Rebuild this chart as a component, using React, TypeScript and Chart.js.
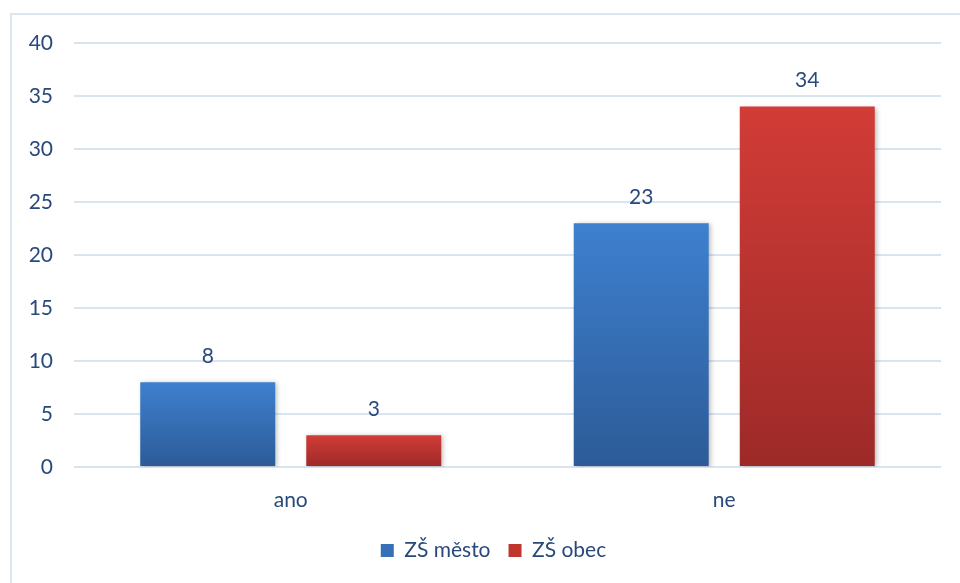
import React, { useEffect, useRef } from "react";
import { Chart, registerables } from "chart.js";

Chart.register(...registerables);

const categories = ["ano", "ne"];
const seriesNames = ["ZŠ město", "ZŠ obec"];
const mestoValues = [8, 23];
const obecValues = [3, 34];
const yTicks = [0, 5, 10, 15, 20, 25, 30, 35, 40];

const TEXT_COLOR = "#28497c";
const FONT_FAMILY = "Lato, 'Noto Sans', sans-serif";
const FONT_SIZE = 21;
const LEGEND_SHIFT = 18;

const palettes = [
  { top: "#3e80cf", bottom: "#2c5b97", solid: "#3670b8" },
  { top: "#d23c37", bottom: "#9d2a28", solid: "#c0362f" },
];

// Each bar gets its own vertical gradient, lighter on top.
function barGradient(index: number) {
  return (c: any) => {
    const chart = c.chart;
    const pal = palettes[index];
    const y = chart.scales?.y;
    if (!chart.chartArea || !y || typeof c.raw !== "number") return pal.solid;
    const top = y.getPixelForValue(c.raw);
    const base = y.getPixelForValue(0);
    if (!isFinite(top) || !isFinite(base) || top === base) return pal.solid;
    const g = chart.ctx.createLinearGradient(0, top, 0, base);
    g.addColorStop(0, pal.top);
    g.addColorStop(1, pal.bottom);
    return g;
  };
}

const shadowPlugin = {
  id: "barShadow",
  beforeDatasetsDraw(chart: any) {
    const ctx = chart.ctx;
    ctx.save();
    ctx.shadowColor = "rgba(0,0,0,0.28)";
    ctx.shadowBlur = 5;
    ctx.shadowOffsetX = 2;
    ctx.shadowOffsetY = 1;
  },
  afterDatasetsDraw(chart: any) {
    chart.ctx.restore();
  },
};

// Nudge the legend to the right of the plot's centre line.
const legendShiftPlugin = {
  id: "legendShift",
  afterLayout(chart: any) {
    const lg = chart.legend;
    if (!lg) return;
    lg.left += LEGEND_SHIFT;
    lg.right += LEGEND_SHIFT;
  },
};

const valueLabelPlugin = {
  id: "valueLabels",
  afterDraw(chart: any) {
    const ctx = chart.ctx;
    ctx.save();
    ctx.fillStyle = TEXT_COLOR;
    ctx.font = `${FONT_SIZE}px ${FONT_FAMILY}`;
    ctx.textAlign = "center";
    ctx.textBaseline = "middle";
    chart.data.datasets.forEach((ds: any, di: number) => {
      const meta = chart.getDatasetMeta(di);
      meta.data.forEach((bar: any, i: number) => {
        ctx.fillText(String(ds.data[i]), bar.x, bar.y - 26);
      });
    });
    ctx.restore();
  },
};

export default function App() {
  const canvasRef = useRef<HTMLCanvasElement | null>(null);

  useEffect(() => {
    if (!canvasRef.current) return;
    const chart = new Chart(canvasRef.current, {
      type: "bar",
      data: {
        labels: categories,
        datasets: [
          {
            label: seriesNames[0],
            data: mestoValues,
            backgroundColor: barGradient(0),
            categoryPercentage: 0.766,
            barPercentage: 0.813,
          },
          {
            label: seriesNames[1],
            data: obecValues,
            backgroundColor: barGradient(1),
            categoryPercentage: 0.766,
            barPercentage: 0.813,
          },
        ],
      },
      options: {
        animation: false,
        responsive: false,
        layout: { padding: { top: 43, left: 10, right: 19, bottom: 12 } },
        plugins: {
          tooltip: { enabled: false },
          legend: {
            position: "bottom",
            labels: {
              boxWidth: 13,
              boxHeight: 13,
              padding: 18,
              color: TEXT_COLOR,
              font: { family: FONT_FAMILY, size: FONT_SIZE },
              generateLabels: () =>
                seriesNames.map((name, i) => ({
                  text: name,
                  fillStyle: palettes[i].solid,
                  strokeStyle: palettes[i].solid,
                  lineWidth: 0,
                  hidden: false,
                  datasetIndex: i,
                  fontColor: TEXT_COLOR,
                })),
            },
          },
        },
        scales: {
          x: {
            grid: { display: false, drawTicks: false },
            border: { display: false },
            ticks: {
              color: TEXT_COLOR,
              font: { family: FONT_FAMILY, size: FONT_SIZE },
              padding: 21,
            },
            afterFit: (s: any) => {
              s.height = 55;
            },
          },
          y: {
            min: 0,
            max: 40,
            grid: { color: "#d9e4f1", lineWidth: 2, drawTicks: false },
            border: { display: false },
            afterBuildTicks: (s: any) => {
              s.ticks = yTicks.map((v) => ({ value: v }));
            },
            ticks: {
              color: TEXT_COLOR,
              font: { family: FONT_FAMILY, size: FONT_SIZE },
              padding: 21,
            },
            afterFit: (s: any) => {
              s.width = 64;
            },
          },
        },
      },
      plugins: [shadowPlugin, legendShiftPlugin, valueLabelPlugin],
    });
    return () => chart.destroy();
  }, []);

  return (
    <div
      style={{
        position: "fixed",
        left: 0,
        top: 0,
        width: 960,
        height: 583,
        overflow: "hidden",
        background: "#ffffff",
      }}
    >
      <div
        style={{
          position: "absolute",
          left: 10,
          top: 13,
          width: 1000,
          height: 700,
          border: "2px solid #dce6f2",
        }}
      />
      <canvas
        ref={canvasRef}
        width={960}
        height={583}
        style={{ position: "absolute", left: 0, top: 0 }}
      />
    </div>
  );
}
